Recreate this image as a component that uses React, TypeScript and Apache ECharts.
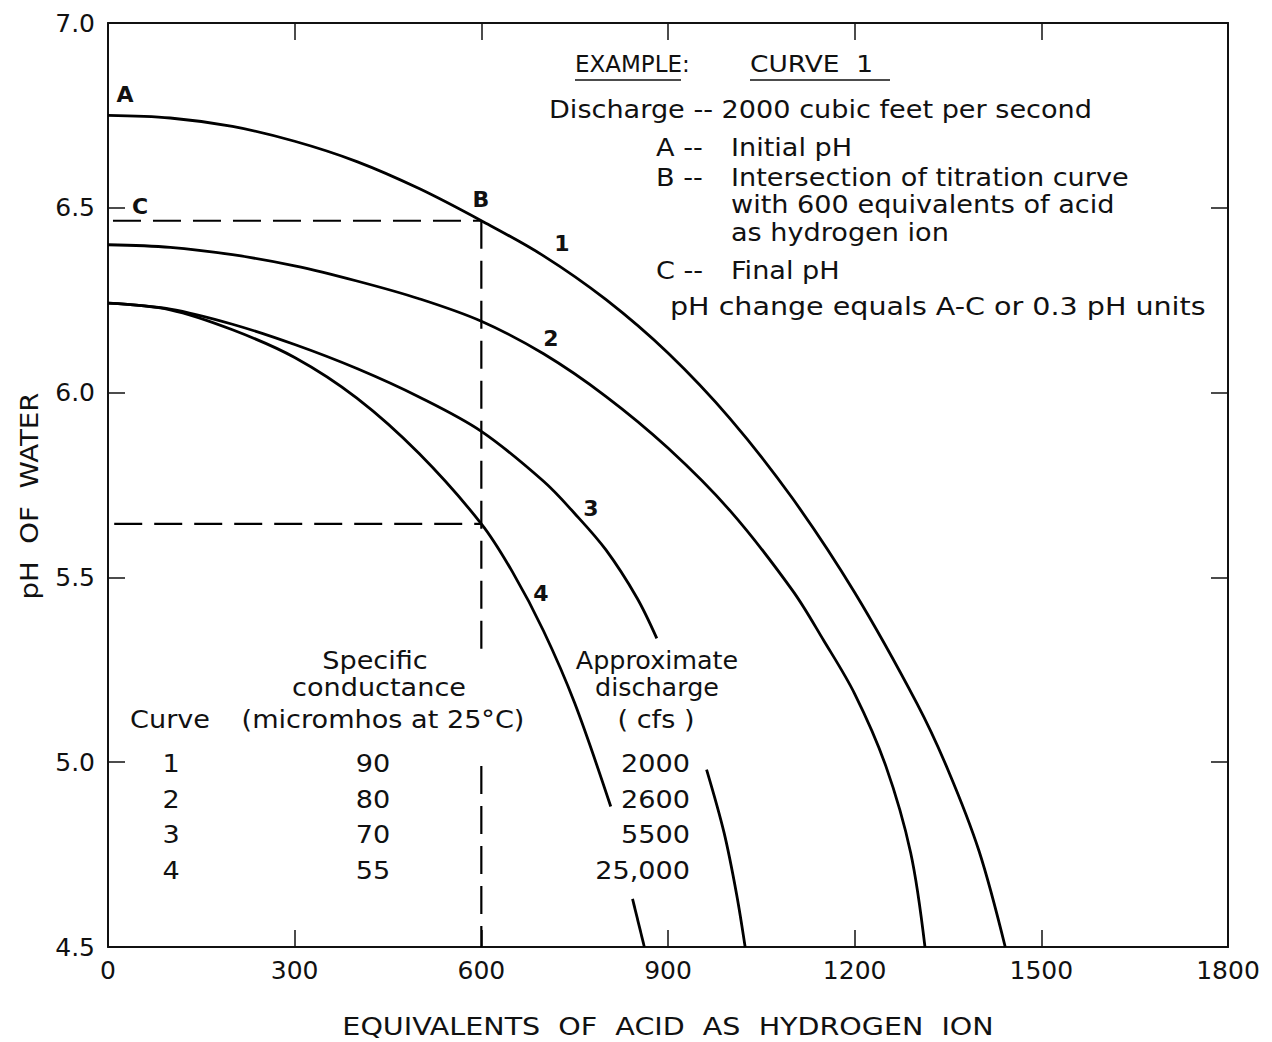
import React, { useEffect, useRef } from "react";
import * as echarts from "echarts";

// Titration curves: equivalents of acid (as H+) vs pH of water
const curve1 = [[0, 6.75], [100, 6.743], [200, 6.72], [300, 6.68], [400, 6.625], [500, 6.552], [600, 6.465], [700, 6.37], [800, 6.252], [900, 6.107], [1000, 5.929], [1100, 5.714], [1200, 5.459], [1300, 5.159], [1350, 4.979], [1400, 4.759], [1442, 4.5]];
const curve2 = [[0, 6.4], [100, 6.393], [200, 6.373], [300, 6.343], [400, 6.302], [500, 6.254], [600, 6.193], [700, 6.105], [800, 5.99], [900, 5.85], [1000, 5.68], [1100, 5.465], [1150, 5.33], [1200, 5.185], [1250, 4.99], [1290, 4.755], [1313, 4.5]];
const curve3Upper = [[0, 6.242], [100, 6.226], [200, 6.185], [300, 6.13], [400, 6.065], [500, 5.988], [600, 5.895], [700, 5.76], [750, 5.673], [800, 5.575], [850, 5.445], [882, 5.335]];
const curve3Lower = [[962, 4.98], [990, 4.81], [1010, 4.645], [1024, 4.5]];
const curve4Upper = [[0, 6.242], [100, 6.224], [200, 6.17], [300, 6.095], [400, 5.985], [500, 5.835], [600, 5.645], [650, 5.515], [700, 5.355], [750, 5.16], [808, 4.88]];
const curve4Lower = [[843, 4.63], [862, 4.5]];

// Worked example (curve 1): 600 equivalents, final pH C
const finalPhLine = [[8, 6.465], [600, 6.465]];
const curve4At600 = [[10, 5.645], [600, 5.645]];
const guideUpper = [[600, 6.465], [600, 5.29]];
const guideLower = [[600, 4.99], [600, 4.5]];

// Axis ranges
const xTicks = [0, 1800, 300];
const yTicks = [4.5, 7.0, 0.5];

// Table of curves
const tableCurves = ["1", "2", "3", "4"];
const tableConductance = ["90", "80", "70", "55"];
const tableDischarge = ["2000", "2600", "5500", "25,000"];

const FONT = "'DejaVu Sans', sans-serif";
const INK = "#111";

function txt(text: string, x: number, y: number, size: number, align = "left", weight = "normal", extra: any = {}) {
  return {
    type: "text",
    x,
    y,
    silent: true,
    ...extra,
    style: {
      text,
      fill: INK,
      fontFamily: FONT,
      fontSize: size,
      fontWeight: weight,
      align,
      verticalAlign: "middle",
    },
  };
}

// body text: slightly smaller glyphs, stretched to the lettering's width
function body(text: string, x: number, y: number, align = "left", sx = 1.13) {
  return txt(text, x, y, 24, align, "normal", { scaleX: sx });
}

function uline(x1: number, x2: number, y: number) {
  return {
    type: "line",
    silent: true,
    shape: { x1, y1: y, x2, y2: y },
    style: { stroke: INK, lineWidth: 1.6 },
  };
}

function curveSeries(name: string, data: number[][]) {
  return {
    name,
    type: "line",
    data,
    symbol: "none",
    smooth: 0.34,
    lineStyle: { color: "#000", width: 2.8 },
    z: 3,
  };
}

function dashSeries(name: string, data: number[][]) {
  return {
    name,
    type: "line",
    data,
    symbol: "none",
    lineStyle: { color: "#000", width: 2.2, type: [28, 12] },
    z: 2,
  };
}

export default function App() {
  const ref = useRef<HTMLDivElement>(null);

  useEffect(() => {
    if (!ref.current) return;
    const chart = echarts.init(ref.current, null, { renderer: "svg" });

    const tick = { show: true, inside: true, length: 17, lineStyle: { color: INK, width: 1.5 } };
    const axisLine = { show: true, onZero: false, lineStyle: { color: INK, width: 2 } };

    const graphics: any[] = [
      // Example block
      txt("EXAMPLE:", 575, 64, 23),
      txt("CURVE  1", 750, 64, 23, "left", "normal", { scaleX: 1.15 }),
      uline(575, 681, 80),
      uline(750, 890, 80),
      body("Discharge -- 2000 cubic feet per second", 549, 110),
      body("A --", 656, 148),
      body("Initial pH", 731, 148),
      body("B --", 656, 178),
      body("Intersection of titration curve", 731, 178),
      body("with 600 equivalents of acid", 731, 205),
      body("as hydrogen ion", 731, 233),
      body("C --", 656, 271),
      body("Final pH", 731, 271),
      body("pH change equals A-C or 0.3 pH units", 670, 307, "left", 1.19),
      // Curve and point labels
      txt("A", 125, 94, 22, "center", "bold"),
      txt("B", 481, 199, 22, "center", "bold"),
      txt("C", 140, 206, 22, "center", "bold"),
      txt("1", 562, 243, 22, "center", "bold"),
      txt("2", 551, 338, 22, "center", "bold"),
      txt("3", 591, 508, 22, "center", "bold"),
      txt("4", 541, 593, 22, "center", "bold"),
      // Table headings
      body("Specific", 375, 661, "center"),
      body("conductance", 379, 688, "center"),
      body("Curve", 170, 720, "center"),
      body("(micromhos at 25°C)", 383, 720, "center"),
      body("Approximate", 657, 661, "center", 1.06),
      body("discharge", 657, 688, "center", 1.06),
      body("( cfs )", 656, 720, "center"),
      // Axis names
      txt("EQUIVALENTS  OF  ACID  AS  HYDROGEN  ION", 668, 1027, 24, "center", "normal", { scaleX: 1.19 }),
      txt("pH  OF  WATER", 30, 496, 24, "center", "normal", { rotation: Math.PI / 2, scaleX: 1.15 }),
    ];
    tableCurves.forEach((c, i) => {
      const y = 764 + i * 35.5;
      graphics.push(body(c, 171, y, "center"));
      graphics.push(body(tableConductance[i], 373, y, "center"));
      graphics.push(body(tableDischarge[i], 690, y, "right"));
    });

    chart.setOption({
      animation: false,
      backgroundColor: "#fff",
      grid: { left: 108, top: 23, width: 1120, height: 924, containLabel: false },
      xAxis: [
        {
          type: "value",
          min: xTicks[0],
          max: xTicks[1],
          interval: xTicks[2],
          position: "bottom",
          axisLine,
          axisTick: tick,
          splitLine: { show: false },
          axisLabel: { color: INK, fontFamily: FONT, fontSize: 25, margin: 11, formatter: (v: number) => String(v) },
        },
        {
          type: "value",
          min: xTicks[0],
          max: xTicks[1],
          interval: xTicks[2],
          position: "top",
          axisLine,
          axisTick: tick,
          splitLine: { show: false },
          axisLabel: { show: false },
        },
      ],
      yAxis: [
        {
          type: "value",
          min: yTicks[0],
          max: yTicks[1],
          interval: yTicks[2],
          position: "left",
          axisLine,
          axisTick: tick,
          splitLine: { show: false },
          axisLabel: {
            color: INK,
            fontFamily: FONT,
            fontSize: 25,
            margin: 13,
            formatter: (v: number) => v.toFixed(1),
          },
        },
        {
          type: "value",
          min: yTicks[0],
          max: yTicks[1],
          interval: yTicks[2],
          position: "right",
          axisLine,
          axisTick: tick,
          splitLine: { show: false },
          axisLabel: { show: false },
        },
      ],
      series: [
        curveSeries("Curve 1", curve1),
        curveSeries("Curve 2", curve2),
        curveSeries("Curve 3", curve3Upper),
        curveSeries("Curve 3 (cont.)", curve3Lower),
        curveSeries("Curve 4", curve4Upper),
        curveSeries("Curve 4 (cont.)", curve4Lower),
        dashSeries("Final pH", finalPhLine),
        dashSeries("Curve 4 at 600", curve4At600),
        dashSeries("600 equivalents", guideUpper),
        dashSeries("600 equivalents (cont.)", guideLower),
      ],
      graphic: graphics,
    });

    return () => chart.dispose();
  }, []);

  return (
    <div
      ref={ref}
      style={{ position: "absolute", left: 0, top: 0, width: 1272, height: 1042, background: "#fff" }}
    />
  );
}
